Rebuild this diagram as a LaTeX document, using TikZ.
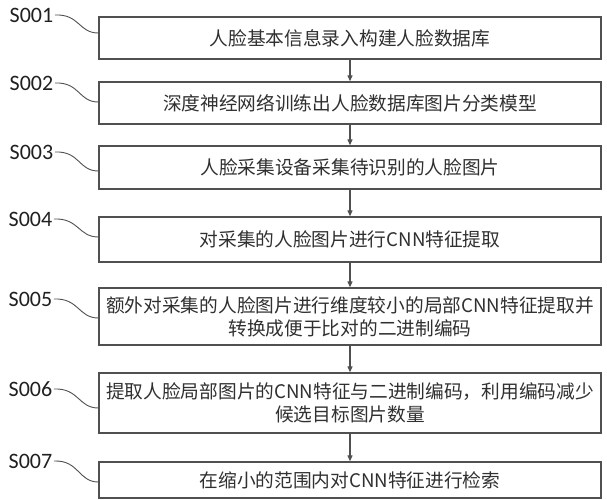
\documentclass[tikz,border=0pt]{standalone}
\usepackage{fontspec}
\newfontfamily\cjk{Noto Sans CJK SC}
\newfontfamily\labfont{Carlito}
\usetikzlibrary{arrows.meta}
\definecolor{boxc}{HTML}{505050}
\definecolor{txtc}{HTML}{303030}
\definecolor{labc}{HTML}{202020}
\begin{document}
\begin{tikzpicture}[x=1pt,y=-1pt,
  stepbox/.style={draw=boxc, line width=1.3pt, minimum width=502pt, inner sep=0pt, align=center,
    font=\cjk\fontsize{18.7}{23}\selectfont, text=txtc},
  steplab/.style={font=\labfont\fontsize{22}{24}\selectfont, anchor=east, inner sep=1.5pt, text=labc},
  lead/.style={draw=boxc, line width=0.9pt},
  flow/.style={draw=boxc, line width=1.1pt, -{Triangle[length=6pt,width=5pt]}}]
\useasboundingbox (0,0) rectangle (607,500);
\fill[white] (0,0) rectangle (607,500);
\node[stepbox, minimum height=42pt] (b1) at (350,38) {人脸基本信息录入构建人脸数据库};
\node[stepbox, minimum height=42pt] (b2) at (350,103) {深度神经网络训练出人脸数据库图片分类模型};
\node[stepbox, minimum height=43pt] (b3) at (350,167.5) {人脸采集设备采集待识别的人脸图片};
\node[stepbox, minimum height=45pt] (b4) at (350,239.5) {对采集的人脸图片进行CNN特征提取};
\node[stepbox, minimum height=57pt] (b5) at (350,316.5) {额外对采集的人脸图片进行维度较小的局部CNN特征提取并\\转换成便于比对的二进制编码};
\node[stepbox, minimum height=60pt] (b6) at (350,403) {提取人脸局部图片的CNN特征与二进制编码，利用编码减少\\候选目标图片数量};
\node[stepbox, minimum height=36pt] (b7) at (350,480) {在缩小的范围内对CNN特征进行检索};
\node[steplab] (s1) at (55,15) {S001};
\node[steplab] (s2) at (55,83) {S002};
\node[steplab] (s3) at (55,152) {S003};
\node[steplab] (s4) at (54,219) {S004};
\node[steplab] (s5) at (54,299) {S005};
\node[steplab] (s6) at (54,389) {S006};
\node[steplab] (s7) at (54,461) {S007};
\draw[lead] (s1.east) .. controls +(25,-1) and +(-20,0) .. ([yshift=5pt]b1.west);
\draw[lead] (s2.east) .. controls +(25,-1) and +(-20,0) .. ([yshift=1pt]b2.west);
\draw[lead] (s3.east) .. controls +(25,-1) and +(-20,0) .. ([yshift=-3.5pt]b3.west);
\draw[lead] (s4.east) .. controls +(25,-1) and +(-20,0) .. ([yshift=2.5pt]b4.west);
\draw[lead] (s5.east) .. controls +(25,-1) and +(-20,0) .. ([yshift=-1.5pt]b5.west);
\draw[lead] (s6.east) .. controls +(25,-1) and +(-20,0) .. ([yshift=-5pt]b6.west);
\draw[lead] (s7.east) .. controls +(25,-1) and +(-20,0) .. ([yshift=-2pt]b7.west);
\draw[flow] (b1) -- (b2);
\draw[flow] (b2) -- (b3);
\draw[flow] (b3) -- (b4);
\draw[flow] (b4) -- (b5);
\draw[flow] (b5) -- (b6);
\draw[flow] (b6) -- (b7);
\end{tikzpicture}
\end{document}
